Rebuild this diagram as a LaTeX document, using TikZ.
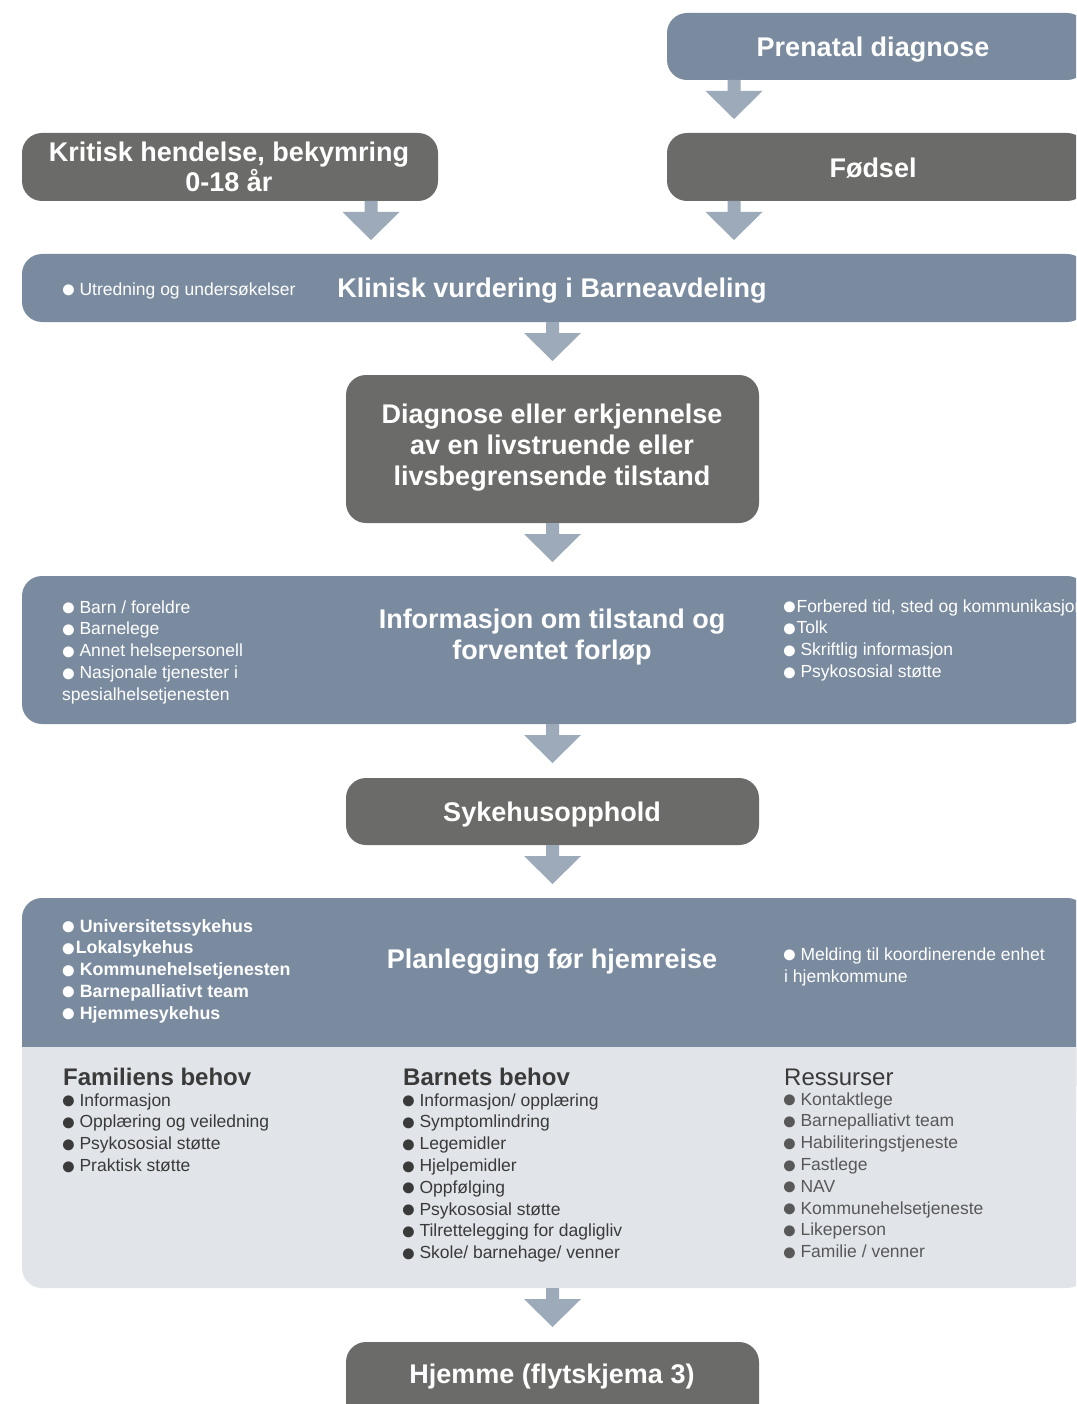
\documentclass[tikz,border=0pt]{standalone}
\usepackage{fontspec}
\usepackage{graphicx}
\setmainfont{Liberation Sans}
\usetikzlibrary{calc}
\definecolor{bluebox}{RGB}{122,139,160}
\definecolor{darkbox}{RGB}{107,107,105}
\definecolor{arrowc}{RGB}{156,170,185}
\definecolor{lightpanel}{RGB}{225,228,233}
\definecolor{textdark}{RGB}{58,58,58}
\definecolor{textres}{RGB}{88,88,88}
\newcommand{\bul}{\kern-0.14em\smash{\raisebox{-0.15em}{\scalebox{1.45}{●}}}\kern-0.08em}
\newcommand{\flowarr}[1]{\fill[arrowc] (#1) ++(-6.5,0) -- ++(13,0) -- ++(0,11) -- ++(22,0) -- ++(-28.5,28) -- ++(-28.5,-28) -- ++(22,0) -- cycle;}
\begin{document}
\begin{tikzpicture}[x=1pt,y=-1pt,
  box/.style n args={2}{anchor=north west, inner sep=0pt, outer sep=0pt, rounded corners=20pt, minimum width=#1pt, minimum height=#2pt},
  ttl/.style={anchor=base, inner sep=0pt, text=white, font=\fontsize{27}{31}\selectfont\bfseries},
  sml/.style={anchor=base west, inner sep=0pt, text=white, font=\fontsize{17.5}{21.8}\selectfont},
  smlb/.style={anchor=base west, inner sep=0pt, text=white, font=\fontsize{17.8}{21.8}\selectfont\bfseries},
  head/.style={anchor=base west, inner sep=0pt, text=textdark, font=\fontsize{24}{28}\selectfont\bfseries},
  headr/.style={anchor=base west, inner sep=0pt, text=textdark, font=\fontsize{24}{28}\selectfont},
  item/.style={anchor=base west, inner sep=0pt, text=textdark, font=\fontsize{17.5}{21.8}\selectfont},
  itemr/.style={anchor=base west, inner sep=0pt, text=textres, font=\fontsize{17.5}{21.8}\selectfont}]
\useasboundingbox (0,0) rectangle (1076,1404);
\clip (0,0) rectangle (1076,1404);
\fill[white] (0,0) rectangle (1076,1404);

% boxes
\node[box={420}{67}, fill=bluebox] (prenatal) at (667,13) {};
\node[box={416}{68}, fill=darkbox] (kritisk) at (22,133) {};
\node[box={420}{68}, fill=darkbox] (fodsel) at (667,133) {};
\node[box={1065}{68}, fill=bluebox] (klinisk) at (22,254) {};
\node[box={413}{148}, fill=darkbox] (diag) at (346,375) {};
\node[box={1065}{148}, fill=bluebox] (info) at (22,576) {};
\node[box={413}{67}, fill=darkbox] (syk) at (346,778) {};
\node[box={1065}{390}, fill=lightpanel] (plan) at (22,898) {};
\fill[bluebox, rounded corners=20pt] (plan.north west) rectangle ($(plan.north east)+(0,190)$);
\fill[lightpanel] ($(plan.north west)+(0,149)$) rectangle ($(plan.north east)+(0,215)$);
\node[box={413}{90}, fill=darkbox] (hjem) at (346,1342) {};

% arrows
\flowarr{$(prenatal.south west)+(67,0)$}
\flowarr{$(kritisk.south west)+(349,0)$}
\flowarr{$(fodsel.south west)+(67,0)$}
\flowarr{klinisk.south -| diag.north}
\flowarr{diag.south}
\flowarr{info.south -| syk.north}
\flowarr{syk.south}
\flowarr{plan.south -| hjem.north}

% titles
\node[ttl] (tprenatal) at (873,56.5) {Prenatal diagnose};
\node[ttl] (tkrit1) at (229,161.5) {Kritisk hendelse, bekymring};
\node[ttl] (tkrit2) at (229,191.5) {0-18 år};
\node[ttl] (tfodsel) at (873,177.5) {Fødsel};
\node[ttl] (tklin) at (552,297.5) {Klinisk vurdering i Barneavdeling};
\node[ttl] (tdiag1) at (552,423.5) {Diagnose eller erkjennelse};
\node[ttl] (tdiag2) at (552,454.5) {av en livstruende eller};
\node[ttl] (tdiag3) at (552,485.5) {livsbegrensende tilstand};
\node[ttl] (tinfo1) at (552,628.5) {Informasjon om tilstand og};
\node[ttl] (tinfo2) at (552,659.5) {forventet forløp};
\node[ttl] (tsyk) at (552,821.5) {Sykehusopphold};
\node[ttl] (tplan) at (552,968.5) {Planlegging før hjemreise};
\node[ttl] (thjem) at (552,1383.5) {Hjemme (flytskjema 3)};

% small texts
\node[sml] (kl1) at (63,295) {\bul{} Utredning og undersøkelser};

\foreach [count=\i] \t in {Barn / foreldre, Barnelege, Annet helsepersonell, Nasjonale tjenester i}
  \node[sml] (il\i) at (63,{613+(\i-1)*21.8}) {\bul{} \t};
\node[sml] (il5) at (62,700.2) {spesialhelsetjenesten};
\node[sml] (ir1) at (784,612) {\bul\kern0.05em Forbered tid, sted og kommunikasjon};
\node[sml] (ir2) at (784,633.8) {\bul\kern0.05em Tolk};
\node[sml] (ir3) at (784,655.6) {\bul{} Skriftlig informasjon};
\node[sml] (ir4) at (784,677.4) {\bul{} Psykososial støtte};

\node[smlb] (pl1) at (63,932) {\bul{} Universitetssykehus};
\node[smlb] (pl2) at (63,953.75) {\bul\kern0.05em Lokalsykehus};
\node[smlb] (pl3) at (63,975.5) {\bul{} Kommunehelsetjenesten};
\node[smlb] (pl4) at (63,997.25) {\bul{} Barnepalliativt team};
\node[smlb] (pl5) at (63,1019) {\bul{} Hjemmesykehus};
\node[sml] (pr1) at (784,960) {\bul{} Melding til koordinerende enhet};
\node[sml] (pr2) at (784,982) {i hjemkommune};

% lower panel
\node[head] (hfam) at (63,1085.5) {Familiens behov};
\node[head] (hbar) at (403,1085.5) {Barnets behov};
\node[headr] (hres) at (784,1085.5) {Ressurser};
\foreach [count=\i] \t in {Informasjon, Opplæring og veiledning, Psykososial støtte, Praktisk støtte}
  \node[item] (fa\i) at (63,{1106+(\i-1)*21.8}) {\bul{} \t};
\foreach [count=\i] \t in {Informasjon/ opplæring, Symptomlindring, Legemidler, Hjelpemidler, Oppfølging, Psykososial støtte, Tilrettelegging for dagligliv, Skole/ barnehage/ venner}
  \node[item] (ba\i) at (403,{1106+(\i-1)*21.8}) {\bul{} \t};
\foreach [count=\i] \t in {Kontaktlege, Barnepalliativt team, Habiliteringstjeneste, Fastlege, NAV, Kommunehelsetjeneste, Likeperson, Familie / venner}
  \node[itemr] (re\i) at (784,{1105+(\i-1)*21.8}) {\bul{} \t};
\end{tikzpicture}
\end{document}
